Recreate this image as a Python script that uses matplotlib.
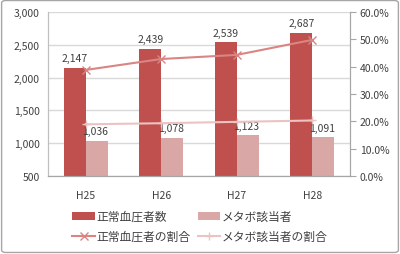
import matplotlib
matplotlib.use("Agg")
import matplotlib.pyplot as plt
import numpy as np
from matplotlib.patches import FancyBboxPatch

plt.rcParams['font.family'] = ['Noto Sans CJK JP', 'DejaVu Sans']

categories = ["H25", "H26", "H27", "H28"]
normal_bp = [2147, 2439, 2539, 2687]
metabo = [1036, 1078, 1123, 1091]
normal_rate = [38.8, 42.8, 44.3, 49.8]
metabo_rate = [18.9, 19.3, 19.8, 20.3]

c_dark = "#C0504D"
c_light = "#D9A7A6"
c_line1 = "#D98583"
c_line2 = "#EBC3C2"
grid_c = "#D9D9D9"
text_c = "#404040"

fig = plt.figure(figsize=(4, 2.55), dpi=100)
ax = fig.add_axes([0.12, 0.306, 0.755, 0.643])
ax2 = ax.twinx()

x = np.arange(len(categories))
w = 0.29
b1 = ax.bar(x - w/2, [v - 500 for v in normal_bp], w, bottom=500, color=c_dark, zorder=2, label="正常血圧者数")
b2 = ax.bar(x + w/2, [v - 500 for v in metabo], w, bottom=500, color=c_light, zorder=2, label="メタボ該当者")

for xi, v in zip(x, normal_bp):
    ax.text(xi - w/2, v + 70, f"{v:,}", ha="center", va="bottom", fontsize=7.5, color=text_c)
for xi, v in zip(x, metabo):
    ax.text(xi + w/2 - 0.02, v + 70, f"{v:,}", ha="center", va="bottom", fontsize=7.5, color=text_c, zorder=5)

ax.set_ylim(500, 3000)
ax.set_yticks(range(500, 3001, 500))
ax.set_yticklabels([f"{v:,}" for v in range(500, 3001, 500)], fontsize=7.5, color=text_c)
ax.set_xlim(-0.5, 3.5)
ax.set_xticks(x)
ax.set_xticklabels(categories, fontsize=7.5, color=text_c)
ax.tick_params(axis="x", length=0, pad=10)
ax.tick_params(axis="y", length=0, pad=6)
ax.grid(axis="y", color=grid_c, linewidth=1, zorder=0)
ax.set_axisbelow(True)

l1, = ax2.plot(x, normal_rate, color=c_line1, marker="x", markersize=6, linewidth=1.5, zorder=4, label="正常血圧者の割合")
l2, = ax2.plot(x, metabo_rate, color=c_line2, marker="+", markersize=6, linewidth=1.5, zorder=4, label="メタボ該当者の割合")
ax2.set_ylim(0, 60)
ax2.set_yticks(range(0, 61, 10))
ax2.set_yticklabels([f"{v:.1f}%" for v in range(0, 61, 10)], fontsize=7.5, color=text_c)
ax2.tick_params(axis="y", length=4, color="#A6A6A6", pad=3)

for a in (ax, ax2):
    a.spines["top"].set_visible(False)
    a.spines["left"].set_color("#BFBFBF")
    a.spines["right"].set_color("#A6A6A6")
    a.spines["bottom"].set_color("#A6A6A6")

ax2.patch.set_visible(False)

handles = [b1, l1, b2, l2]
fig.legend(handles, [h.get_label() for h in handles], ncol=2, loc="center",
           bbox_to_anchor=(0.5, 0.108), frameon=False, fontsize=8.5,
           handlelength=1.9, columnspacing=0.6, labelcolor=text_c, handletextpad=0.15,
           borderaxespad=0.0, borderpad=0.0, labelspacing=0.6)

border = FancyBboxPatch((0.004, 0.006), 0.992, 0.988, boxstyle="round,pad=0,rounding_size=0.01",
                        transform=fig.transFigure, fill=False, edgecolor="#A6A6A6", linewidth=1)
fig.patches.append(border)

fig.savefig("out.png", dpi=100)
